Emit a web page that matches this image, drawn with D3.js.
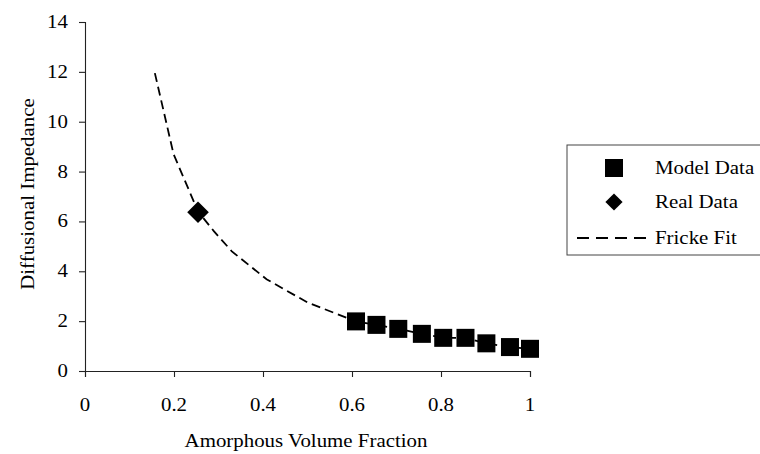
<!DOCTYPE html>
<html>
<head>
<meta charset="utf-8">
<script src="https://cdn.jsdelivr.net/npm/d3@7"></script>
<style>
  body { margin: 0; background: #fff; }
  svg text { font-family: "Liberation Serif", "Times New Roman", serif; fill: #000; }
</style>
</head>
<body>
<div id="chart"></div>
<script>
const width = 760;
const height = 454;

const modelX = [0.609, 0.655, 0.704, 0.757, 0.805, 0.855, 0.902, 0.955, 1.0];
const modelY = [1.99, 1.85, 1.69, 1.49, 1.33, 1.33, 1.11, 0.96, 0.89];

const realX = [0.254];
const realY = [6.37];

const frickeX = [0.157, 0.199, 0.254, 0.29, 0.33, 0.408, 0.5, 0.609, 0.655, 0.704, 0.757, 0.805, 0.855, 0.902, 0.955, 1.0];
const frickeY = [11.95, 8.7, 6.4, 5.6, 4.8, 3.68, 2.75, 1.99, 1.85, 1.69, 1.49, 1.33, 1.33, 1.11, 0.96, 0.89];

const xTicks = [0, 0.2, 0.4, 0.6, 0.8, 1];
const yTicks = [0, 2, 4, 6, 8, 10, 12, 14];

const legendLabels = ["Model Data", "Real Data", "Fricke Fit"];

const fontSize = 18.5;
const stretch = 1.13;

const svg = d3
  .select("#chart")
  .append("svg")
  .attr("width", width)
  .attr("height", height);

const x = d3.scaleLinear().domain([0, 1]).range([85, 530]);
const y = d3.scaleLinear().domain([0, 14]).range([371, 22]);

// axes
const xAxis = svg
  .append("g")
  .attr("transform", `translate(0,${y(0)})`)
  .call(d3.axisBottom(x).tickValues(xTicks).tickSize(6).tickFormat(""));
const yAxis = svg
  .append("g")
  .attr("transform", `translate(${x(0)},0)`)
  .call(d3.axisLeft(y).tickValues(yTicks).tickSize(6).tickFormat(""));

[xAxis, yAxis].forEach((g) => {
  g.select(".domain").attr("stroke", "#222").attr("stroke-width", 1.1);
  g.selectAll(".tick line").attr("stroke", "#222").attr("stroke-width", 1.1);
});

function addText(tx, ty, str, anchor, rotate) {
  return svg
    .append("text")
    .attr(
      "transform",
      `translate(${tx},${ty})${rotate ? " rotate(-90)" : ""} scale(${stretch},1)`,
    )
    .attr("text-anchor", anchor)
    .attr("font-size", fontSize)
    .text(str);
}

xTicks.forEach((t) => addText(x(t), 411, d3.format("")(t), "middle"));
yTicks.forEach((t) => addText(68, y(t) + 6, t, "end"));

addText(306, 447, "Amorphous Volume Fraction", "middle");
addText(34, 194, "Diffusional Impedance", "middle", true);

// fricke fit
const fricke = frickeX.map((d, i) => [d, frickeY[i]]);
svg
  .append("path")
  .datum(fricke)
  .attr("fill", "none")
  .attr("stroke", "#000")
  .attr("stroke-width", 1.8)
  .attr("stroke-dasharray", "9,5")
  .attr(
    "d",
    d3
      .line()
      .x((d) => x(d[0]))
      .y((d) => y(d[1])),
  );

// model data squares
svg
  .selectAll(".model")
  .data(modelX.map((d, i) => [d, modelY[i]]))
  .join("rect")
  .attr("class", "model")
  .attr("x", (d) => x(d[0]) - 9)
  .attr("y", (d) => y(d[1]) - 9)
  .attr("width", 18)
  .attr("height", 18)
  .attr("fill", "#000");

// real data diamond
const diamond = (r) => `M0,${-r}L${r},0L0,${r}L${-r},0Z`;
svg
  .selectAll(".real")
  .data(realX.map((d, i) => [d, realY[i]]))
  .join("path")
  .attr("class", "real")
  .attr("transform", (d) => `translate(${x(d[0])},${y(d[1])})`)
  .attr("d", diamond(10.8))
  .attr("fill", "#000");

// legend
const legend = svg.append("g");
legend
  .append("rect")
  .attr("x", 567)
  .attr("y", 145)
  .attr("width", 210)
  .attr("height", 110)
  .attr("fill", "#fff")
  .attr("stroke", "#444")
  .attr("stroke-width", 1);

const legendY = [168, 202, 238];
legend
  .append("rect")
  .attr("x", 605)
  .attr("y", legendY[0] - 9)
  .attr("width", 18)
  .attr("height", 18)
  .attr("fill", "#000");
legend
  .append("path")
  .attr("transform", `translate(614,${legendY[1]})`)
  .attr("d", diamond(8.6))
  .attr("fill", "#000");
legend
  .append("line")
  .attr("x1", 577)
  .attr("x2", 647)
  .attr("y1", legendY[2])
  .attr("y2", legendY[2])
  .attr("stroke", "#000")
  .attr("stroke-width", 1.8)
  .attr("stroke-dasharray", "12,7");

legendLabels.forEach((label, i) => addText(655, legendY[i] + 6, label, "start"));
</script>
</body>
</html>
